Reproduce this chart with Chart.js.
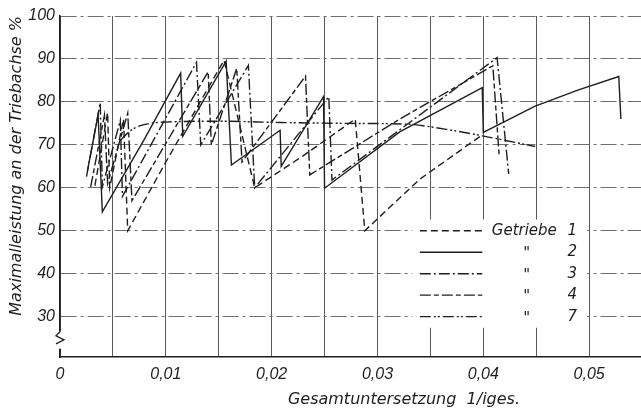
<!DOCTYPE html>
<html>
<head>
<meta charset="utf-8">
<script src="https://cdn.jsdelivr.net/npm/chart.js@4.4.1/dist/chart.umd.min.js"></script>
<style>
  html, body { margin: 0; padding: 0; background: #fff; }
  #wrap { width: 641px; height: 420px; }
</style>
</head>
<body>
<div id="wrap"><canvas id="chart"></canvas></div>
<script>
// Maximalleistung an der Triebachse vs. Gesamtuntersetzung, Getriebe 1, 2, 3, 4, 7

const xTicks = [0, 0.005, 0.01, 0.015, 0.02, 0.025, 0.03, 0.035, 0.04, 0.045, 0.05];
const yTicks = [30, 40, 50, 60, 70, 80, 90, 100];
const gearNames = ['1', '2', '3', '4', '7'];
const legendRows = [50, 45, 40, 35, 30];

// Getriebe 1 (dashed)
const g1X = [0.0033, 0.0045, 0.0047, 0.0060, 0.0064, 0.0100, 0.0155, 0.0184, 0.0230, 0.0279, 0.0288, 0.0340, 0.0400];
const g1Y = [60.5, 77.5, 60.0, 76.0, 50.0, 66.0, 89.7, 60.0, 67.5, 76.0, 50.0, 62.0, 72.5];

// Getriebe 2 (solid)
const g2X = [0.0026, 0.0036, 0.0040, 0.0079, 0.0114, 0.0116, 0.0157, 0.0162, 0.0208, 0.0209, 0.0249, 0.0250, 0.0321, 0.0399, 0.0400, 0.0449, 0.0490, 0.0528, 0.0530];
const g2Y = [64.0, 77.0, 54.4, 71.0, 86.7, 72.0, 89.5, 65.3, 73.4, 65.0, 81.2, 59.9, 73.0, 83.3, 72.9, 79.0, 82.8, 85.9, 76.0];

// Getriebe 3 (dash-dot)
const g3X = [0.0025, 0.0038, 0.0040, 0.0057, 0.0059, 0.0129, 0.0133, 0.0178, 0.0184, 0.0254, 0.0257, 0.0321, 0.0413, 0.0424];
const g3Y = [62.6, 79.8, 60.2, 75.7, 58.0, 89.2, 70.0, 88.5, 60.0, 81.2, 61.8, 73.5, 90.3, 63.2];

// Getriebe 4 (long-short dash)
const g4X = [0.0029, 0.0042, 0.0045, 0.0064, 0.0068, 0.0140, 0.0143, 0.0167, 0.0172, 0.0232, 0.0236, 0.0321, 0.0409, 0.0415];
const g4Y = [60.2, 76.9, 61.0, 77.4, 57.0, 87.0, 70.0, 87.8, 66.0, 86.0, 63.0, 76.0, 88.4, 67.4];

// Getriebe 7 (dash-dot-dot, smooth)
const g7X = [0.0057, 0.0065, 0.0073, 0.0085, 0.0099, 0.0150, 0.0208, 0.0270, 0.0328, 0.0365, 0.0399, 0.0449];
const g7Y = [71.0, 73.0, 74.2, 75.0, 75.3, 75.5, 75.2, 75.0, 74.8, 73.6, 72.1, 69.6];

const ink = '#1e1e1e';
const labelFont = { family: "'Liberation Sans Narrow', 'Liberation Sans', sans-serif", size: 16, style: 'italic' };
const captionFont = "italic 16px 'DejaVu Sans', sans-serif";

const toPoints = (xs, ys) => xs.map((x, i) => ({ x, y: ys[i] }));

const series = [
  { xs: g1X, ys: g1Y, dash: [7, 4] },
  { xs: g2X, ys: g2Y, dash: [] },
  { xs: g3X, ys: g3Y, dash: [11, 3, 2, 3] },
  { xs: g4X, ys: g4Y, dash: [11, 3, 5, 3] },
  { xs: g7X, ys: g7Y, dash: [11, 3, 2, 2, 2, 3], smooth: true }
];

// legend box in the lower right, drawn like the original drawing
const gearLegend = {
  id: 'gearLegend',
  beforeDatasetsDraw(chart) {
    const { ctx, scales: { x, y } } = chart;
    ctx.save();
    ctx.fillStyle = '#fff';
    const l = x.getPixelForValue(0.0333), r = x.getPixelForValue(0.0498);
    const t = y.getPixelForValue(52.6), b = y.getPixelForValue(27.4);
    ctx.fillRect(l, t, r - l, b - t);

    ctx.font = "italic 15px 'DejaVu Sans', sans-serif";
    ctx.fillStyle = ink;
    ctx.textBaseline = 'middle';
    chart.data.datasets.forEach((ds, i) => {
      const py = y.getPixelForValue(legendRows[i]);
      ctx.strokeStyle = ink;
      ctx.lineWidth = 1.4;
      ctx.setLineDash(ds.borderDash);
      ctx.beginPath();
      ctx.moveTo(x.getPixelForValue(0.0340), py);
      ctx.lineTo(x.getPixelForValue(0.0399), py);
      ctx.stroke();
      ctx.setLineDash([]);
      if (i === 0) {
        ctx.textAlign = 'left';
        ctx.fillText('Getriebe', x.getPixelForValue(0.0408), py);
      } else {
        ctx.textAlign = 'center';
        ctx.fillText('"', x.getPixelForValue(0.0441), py + 2);
      }
      ctx.textAlign = 'center';
      ctx.fillText(ds.label, x.getPixelForValue(0.0484), py);
    });
    ctx.restore();
  }
};

// axis break on the value axis + x caption (sits right of centre in the original)
const axisExtras = {
  id: 'axisExtras',
  afterDraw(chart) {
    const { ctx, scales: { x, y } } = chart;
    const ax = x.getPixelForValue(0);
    const y1 = y.getPixelForValue(26.7), y2 = y.getPixelForValue(22.5);
    ctx.save();
    ctx.fillStyle = '#fff';
    ctx.fillRect(ax - 3, y1, 6, y2 - y1);
    ctx.strokeStyle = ink;
    ctx.lineWidth = 1.3;
    ctx.beginPath();
    ctx.moveTo(ax, y1 - 2);
    ctx.lineTo(ax, y1 + 1);
    ctx.lineTo(ax - 4, y1 + 5);
    ctx.lineTo(ax + 4, y1 + 9);
    ctx.lineTo(ax - 4, y1 + 13);
    ctx.moveTo(ax, y2);
    ctx.lineTo(ax, y2 + 3);
    ctx.stroke();

    ctx.font = captionFont;
    ctx.fillStyle = ink;
    ctx.textAlign = 'center';
    ctx.textBaseline = 'middle';
    ctx.fillText('Gesamtuntersetzung  1/iges.', x.getPixelForValue(0.0325), chart.height - 20);
    ctx.restore();
  }
};

new Chart(document.getElementById('chart'), {
  type: 'scatter',
  data: {
    datasets: series.map((s, i) => ({
      label: gearNames[i],
      data: toPoints(s.xs, s.ys),
      showLine: true,
      borderColor: ink,
      borderWidth: 1.4,
      borderDash: s.dash,
      pointRadius: 0,
      cubicInterpolationMode: s.smooth ? 'monotone' : 'default',
      tension: 0
    }))
  },
  options: {
    responsive: true,
    maintainAspectRatio: false,
    animation: false,
    layout: { padding: { top: 16, left: 0, right: 0, bottom: 0 } },
    plugins: {
      legend: { display: false },
      tooltip: { enabled: false }
    },
    scales: {
      x: {
        type: 'linear',
        min: 0,
        max: 0.0549,
        afterBuildTicks: s => { s.ticks = xTicks.map(v => ({ value: v })); },
        afterFit: s => { s.height = 63; },
        ticks: {
          autoSkip: false,
          maxRotation: 0,
          padding: 8,
          color: ink,
          font: labelFont,
          callback: v => {
            const k = Math.round(v * 1000);
            if (k % 10 !== 0) return '';
            return k === 0 ? '0' : (v.toFixed(2)).replace('.', ',');
          }
        },
        grid: { color: '#5a5a5a', lineWidth: 1, drawTicks: false },
        border: { display: true, color: ink, width: 1.6 }
      },
      y: {
        min: 20.6,
        max: 100,
        afterBuildTicks: s => { s.ticks = yTicks.map(v => ({ value: v })); },
        afterFit: s => { s.width = 60; },
        ticks: { padding: 5, color: ink, font: labelFont },
        grid: { color: '#6e6e6e', lineWidth: 1, drawTicks: false },
        border: { display: true, color: ink, width: 1.6, dash: [16, 4, 3, 4] },
        title: {
          display: true,
          text: 'Maximalleistung an der Triebachse %',
          align: 'end',
          color: ink,
          font: { family: "'DejaVu Sans', sans-serif", size: 16, style: 'italic' },
          padding: { top: 7, bottom: 0 }
        }
      }
    }
  },
  plugins: [gearLegend, axisExtras]
});
</script>
</body>
</html>
